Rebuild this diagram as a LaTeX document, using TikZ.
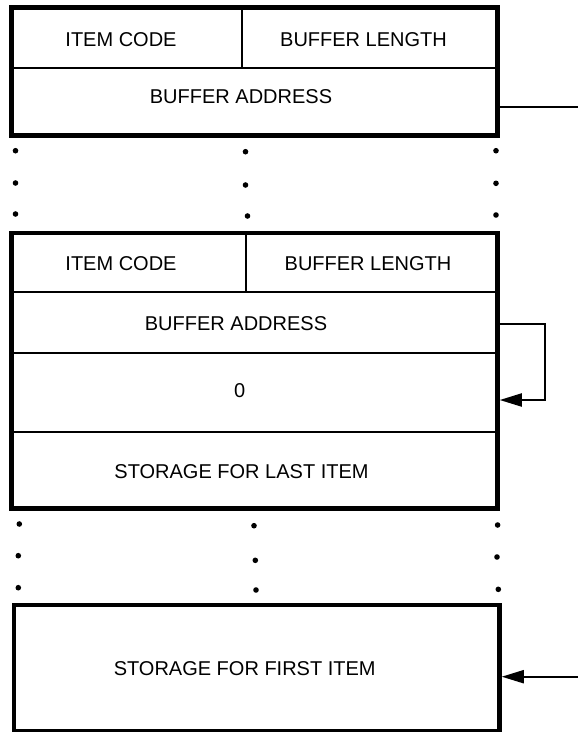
\documentclass[tikz,border=0pt]{standalone}
\usepackage{fontspec}
\setmainfont{Liberation Sans}
\usetikzlibrary{arrows.meta}
\begin{document}
\begin{tikzpicture}[x=1pt,y=-1pt,
  outerbox/.style={draw, line width=4.5pt, rectangle, inner sep=0pt, outer sep=2.25pt},
  divider/.style={line width=2pt},
  lbl/.style={font=\fontsize{20}{24}\selectfont, inner sep=0pt},
  conn/.style={line width=2pt},
  tipped/.style={-{Triangle[length=22pt,width=13pt]}},
  dotmark/.style={circle, fill, inner sep=0pt, minimum size=5.6pt}]
\useasboundingbox (0,0) rectangle (578,732);

% ---------- box 1 ----------
\node[outerbox, minimum width=485.8pt, minimum height=128pt] (box1) at (254.6,71.5) {};
\draw[divider] (11.7,67.7) -- (497.5,67.7);
\draw[divider] (241.7,7.5) -- (241.7,67.7);
\node[lbl] (ic1) at (121,40) {ITEM CODE};
\node[lbl] (bl1) at (363.5,40) {BUFFER LENGTH};
\node[lbl] (ba1) at (241,97) {BUFFER ADDRESS};
\coordinate (out1) at (578,107.3);
\draw[conn] (box1.east |- out1) -- (out1);

% ---------- dots 1 ----------
\node[dotmark] (d11) at (15.5,150.7) {};
\node[dotmark] (d12) at (15.5,183) {};
\node[dotmark] (d13) at (15.5,214) {};
\node[dotmark] (d21) at (245.5,151.7) {};
\node[dotmark] (d22) at (245.5,185) {};
\node[dotmark] (d23) at (247.5,216) {};
\node[dotmark] (d31) at (496,150.7) {};
\node[dotmark] (d32) at (496,183.3) {};
\node[dotmark] (d33) at (496,215) {};

% ---------- box 2 ----------
\node[outerbox, minimum width=485.8pt, minimum height=275.5pt] (box2) at (254.6,370.75) {};
\draw[divider] (11.7,291.7) -- (497.5,291.7);
\draw[divider] (246,233) -- (246,291.7);
\draw[divider] (11.7,353.3) -- (497.5,353.3);
\draw[divider] (11.7,431.7) -- (497.5,431.7);
\node[lbl] (ic2) at (121,264) {ITEM CODE};
\node[lbl] (bl2) at (368,264) {BUFFER LENGTH};
\node[lbl] (ba2) at (236,323.5) {BUFFER ADDRESS};
\node[lbl] (zero) at (239.6,391) {0};
\node[lbl] (last) at (241.5,471.5) {STORAGE FOR LAST ITEM};
\coordinate (lp1) at (545,324.3);
\coordinate (lp2) at (545,400);
\draw[conn, tipped] (box2.east |- lp1) -- (lp1) -- (lp2) -- (box2.east |- lp2);

% ---------- dots 2 ----------
\node[dotmark] (e11) at (19.3,524) {};
\node[dotmark] (e12) at (18.3,555.7) {};
\node[dotmark] (e13) at (18.3,587.7) {};
\node[dotmark] (e21) at (254,525.7) {};
\node[dotmark] (e22) at (255.3,560.3) {};
\node[dotmark] (e23) at (256,590) {};
\node[dotmark] (e31) at (497.6,525) {};
\node[dotmark] (e32) at (497,557) {};
\node[dotmark] (e33) at (498.3,589.3) {};

% ---------- box 3 ----------
\node[outerbox, minimum width=485.3pt, minimum height=126pt] (box3) at (256.85,668) {};
\node[lbl] (first) at (244.7,668.3) {STORAGE FOR FIRST ITEM};
\coordinate (in3) at (578,676.7);
\draw[conn, tipped] (in3) -- (box3.east |- in3);
\end{tikzpicture}
\end{document}
